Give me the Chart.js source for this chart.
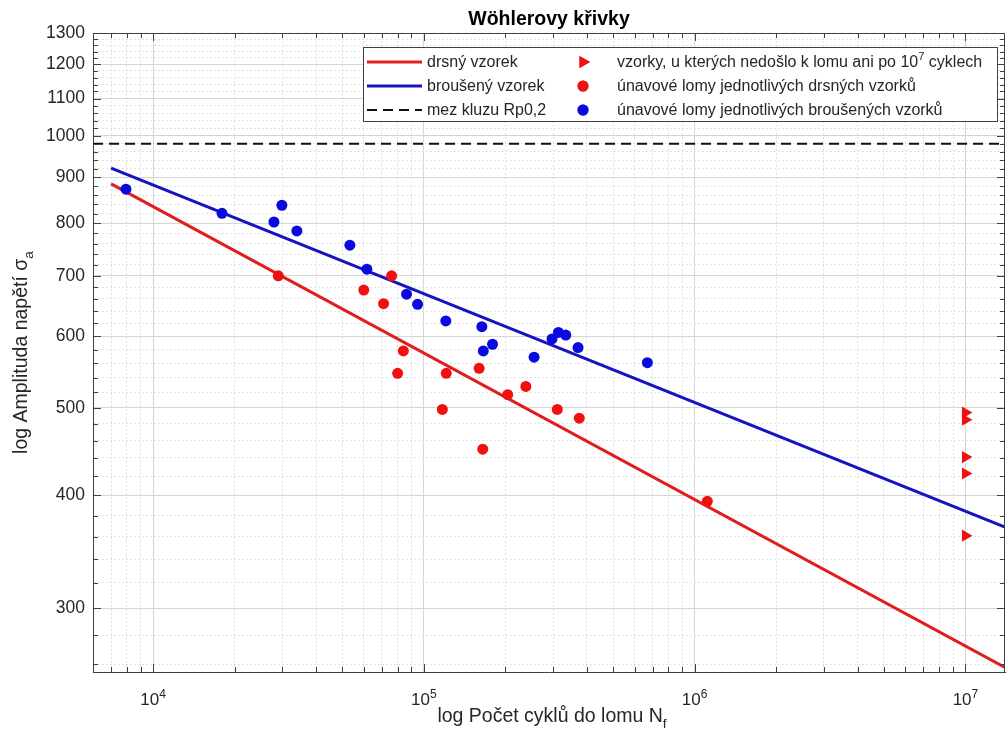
<!DOCTYPE html>
<html>
<head>
<meta charset="utf-8">
<script src="https://cdn.jsdelivr.net/npm/chart.js@4.4.0/dist/chart.umd.min.js"></script>
<style>
  html, body { margin: 0; padding: 0; background: #fff; overflow: hidden; }
  canvas { display: block; }
</style>
</head>
<body>
<canvas id="chart" width="1006" height="742"></canvas>
<script>
// únavové lomy drsných vzorků
const roughN = [29000, 60000, 71000, 76000, 80000, 84000, 117000, 121000, 160000, 165000, 204000, 238000, 311000, 375000, 1114000];
const roughS = [700, 675, 652, 700, 546, 578, 498, 546, 553, 450, 517, 528, 498, 487, 394];

// únavové lomy broušených vzorků
const groundN = [7940, 17970, 27950, 29900, 33960, 53300, 61600, 86300, 94800, 120500, 163700, 165800, 179300, 255300, 297400, 314000, 334300, 371000, 669000];
const groundS = [873, 821, 803, 838, 785, 757, 712, 668, 651, 624, 615, 578, 588, 569, 596, 606, 602, 583, 561];

// vzorky bez lomu po 10^7 cyklech
const runoutN = [10000000, 10000000, 10000000, 10000000, 10000000];
const runoutS = [494, 485, 441, 423, 361];

// Wöhlerovy přímky (koncové body)
const roughLineN = [7000, 14000000];
const roughLineS = [885, 258];
const groundLineN = [7000, 14000000];
const groundLineS = [921, 369];

// mez kluzu Rp0,2
const yieldN = [6000, 14000000];
const yieldS = [980, 980];

// osy
const xRange = [6000, 14000000];
const yRange = [255, 1300];
const xTickExponents = [4, 5, 6, 7];
const yTickLabels = [300, 400, 500, 600, 700, 800, 900, 1000, 1100, 1200, 1300];

const FONT = "'Liberation Sans', Arial, Helvetica, sans-serif";
const AXIS = '#404040';
const TEXT = '#262626';

const xTicks = [];
for (let d = 1000; d <= 10000000; d *= 10) {
  for (let m = 1; m <= 9; m++) {
    const v = m * d;
    if (v >= xRange[0] && v <= xRange[1]) xTicks.push(v);
  }
}
const yTicks = [];
for (let v = 260; v <= yRange[1]; v += 20) yTicks.push(v);

function isMajorX(v) {
  return xTickExponents.some(e => Math.abs(v - Math.pow(10, e)) < 1e-6);
}
function isMajorY(v) {
  return yTickLabels.includes(v);
}

function pts(xs, ys) {
  return xs.map((x, i) => ({x: x, y: ys[i]}));
}

// text with ^sup / _sub parts
function richParts(str, size) {
  const parts = [];
  const re = /([\^_])(\{[^}]*\}|.)/g;
  let last = 0, m;
  while ((m = re.exec(str)) !== null) {
    if (m.index > last) parts.push({t: str.slice(last, m.index), size: size, dy: 0});
    const t = m[2].replace(/[{}]/g, '');
    if (m[1] === '^') parts.push({t: t, size: size * 0.7, dy: -size * 0.4});
    else parts.push({t: t, size: size * 0.7, dy: size * 0.3});
    last = re.lastIndex;
  }
  if (last < str.length) parts.push({t: str.slice(last), size: size, dy: 0});
  return parts;
}
function richWidth(ctx, parts) {
  let w = 0;
  parts.forEach(p => { ctx.font = p.size + 'px ' + FONT; w += ctx.measureText(p.t).width; });
  return w;
}
function drawRich(ctx, parts, x, y) {
  parts.forEach(p => {
    ctx.font = p.size + 'px ' + FONT;
    ctx.fillText(p.t, x, y + p.dy);
    x += ctx.measureText(p.t).width;
  });
}

const legendCols = [
  [3, 4, 5],
  [0, 1, 2]
];

const matlabAxes = {
  id: 'matlabAxes',
  afterDatasetsDraw(chart) {
    const {ctx, chartArea: a, scales: {x, y}} = chart;
    ctx.save();
    ctx.strokeStyle = AXIS;
    ctx.lineWidth = 1;
    ctx.beginPath();
    ctx.moveTo(a.left, a.top + 0.5); ctx.lineTo(a.right, a.top + 0.5);
    ctx.moveTo(a.right - 0.5, a.top); ctx.lineTo(a.right - 0.5, a.bottom);
    xTicks.forEach(v => {
      const px = Math.round(x.getPixelForValue(v)) + 0.5;
      const len = isMajorX(v) ? 8 : 5;
      ctx.moveTo(px, a.bottom); ctx.lineTo(px, a.bottom - len);
      ctx.moveTo(px, a.top); ctx.lineTo(px, a.top + len);
    });
    yTicks.forEach(v => {
      const py = Math.round(y.getPixelForValue(v)) + 0.5;
      const len = isMajorY(v) ? 8 : 5;
      ctx.moveTo(a.left, py); ctx.lineTo(a.left + len, py);
      ctx.moveTo(a.right, py); ctx.lineTo(a.right - len, py);
    });
    ctx.stroke();

    // x tick labels 10^n
    ctx.fillStyle = TEXT;
    ctx.textBaseline = 'alphabetic';
    ctx.textAlign = 'left';
    xTickExponents.forEach(e => {
      const px = x.getPixelForValue(Math.pow(10, e));
      ctx.font = '17px ' + FONT;
      const w1 = ctx.measureText('10').width;
      ctx.font = '12px ' + FONT;
      const w2 = ctx.measureText(String(e)).width;
      const x0 = px - (w1 + w2) / 2;
      ctx.font = '17px ' + FONT;
      ctx.fillText('10', x0, a.bottom + 33);
      ctx.font = '12px ' + FONT;
      ctx.fillText(String(e), x0 + w1, a.bottom + 26);
    });

    // axis titles
    const xt = richParts('log Počet cyklů do lomu N_f', 19.5);
    const xw = richWidth(ctx, xt);
    drawRich(ctx, xt, (a.left + a.right) / 2 + 3 - xw / 2, a.bottom + 50);

    const yt = richParts('log Amplituda napětí σ_a', 19.5);
    const yw = richWidth(ctx, yt);
    ctx.save();
    ctx.translate(27, (a.top + a.bottom) / 2);
    ctx.rotate(-Math.PI / 2);
    drawRich(ctx, yt, -yw / 2, 0);
    ctx.restore();
    ctx.restore();
  },
  afterDraw(chart) {
    const {ctx, chartArea: a} = chart;
    const ds = chart.data.datasets;
    const box = {left: a.right - 642, top: a.top + 14, width: 634, height: 74};
    ctx.save();
    ctx.fillStyle = '#fff';
    ctx.fillRect(box.left, box.top, box.width, box.height);
    ctx.strokeStyle = AXIS;
    ctx.lineWidth = 1;
    ctx.strokeRect(box.left + 0.5, box.top + 0.5, box.width, box.height);
    const rowY = [15, 39, 63];
    ctx.textBaseline = 'middle';
    ctx.textAlign = 'left';
    legendCols[0].forEach((idx, r) => {
      const d = ds[idx];
      const yy = box.top + rowY[r];
      ctx.strokeStyle = d.borderColor;
      ctx.lineWidth = d.borderWidth;
      ctx.setLineDash(d.borderDash || []);
      ctx.beginPath();
      ctx.moveTo(box.left + 4, yy); ctx.lineTo(box.left + 59, yy);
      ctx.stroke();
      ctx.setLineDash([]);
      ctx.fillStyle = TEXT;
      drawRich(ctx, richParts(d.label, 16), box.left + 64, yy + 1);
    });
    legendCols[1].forEach((idx, r) => {
      const d = ds[idx];
      const yy = box.top + rowY[r];
      ctx.fillStyle = d.backgroundColor;
      Chart.helpers.drawPoint(ctx, {pointStyle: d.pointStyle, rotation: d.rotation || 0, radius: d.pointRadius, borderWidth: 0}, box.left + 220, yy);
      ctx.fill();
      ctx.fillStyle = TEXT;
      drawRich(ctx, richParts(d.label, 16), box.left + 254, yy + 1);
    });
    ctx.restore();
  }
};

new Chart(document.getElementById('chart'), {
  type: 'scatter',
  data: {
    datasets: [
      {
        label: 'vzorky, u kterých nedošlo k lomu ani po 10^7 cyklech',
        data: pts(runoutN, runoutS),
        pointStyle: 'triangle',
        rotation: 90,
        pointRadius: 7,
        backgroundColor: '#f01010',
        borderColor: '#f01010',
        borderWidth: 0
      },
      {
        label: 'únavové lomy jednotlivých drsných vzorků',
        data: pts(roughN, roughS),
        pointStyle: 'circle',
        pointRadius: 5.5,
        backgroundColor: '#f01010',
        borderColor: '#f01010',
        borderWidth: 0
      },
      {
        label: 'únavové lomy jednotlivých broušených vzorků',
        data: pts(groundN, groundS),
        pointStyle: 'circle',
        pointRadius: 5.5,
        backgroundColor: '#0a0ae0',
        borderColor: '#0a0ae0',
        borderWidth: 0
      },
      {
        label: 'drsný vzorek',
        data: pts(roughLineN, roughLineS),
        showLine: true,
        pointRadius: 0,
        borderColor: '#e01e1e',
        borderWidth: 3
      },
      {
        label: 'broušený vzorek',
        data: pts(groundLineN, groundLineS),
        showLine: true,
        pointRadius: 0,
        borderColor: '#1414c0',
        borderWidth: 3
      },
      {
        label: 'mez kluzu Rp0,2',
        data: pts(yieldN, yieldS),
        showLine: true,
        pointRadius: 0,
        borderColor: '#111',
        borderWidth: 2,
        borderDash: [10, 6]
      }
    ]
  },
  options: {
    responsive: false,
    animation: false,
    devicePixelRatio: 1,
    layout: {autoPadding: false, padding: {left: 0, right: 1, top: 0, bottom: 0}},
    plugins: {
      legend: {display: false},
      tooltip: {enabled: false},
      title: {
        display: true,
        text: 'Wöhlerovy křivky',
        fullSize: false,
        color: '#000',
        font: {family: FONT, size: 19.5, weight: 'bold'},
        padding: {top: 7.5, bottom: 2.1}
      }
    },
    scales: {
      x: {
        type: 'logarithmic',
        min: xRange[0],
        max: xRange[1],
        afterBuildTicks: s => { s.ticks = xTicks.map(v => ({value: v})); },
        afterFit: s => { s.height = 70; s.paddingLeft = 0; s.paddingRight = 0; },
        ticks: {display: false, autoSkip: false, maxRotation: 0, padding: 0},
        grid: {
          drawTicks: false,
          color: c => (c.tick && isMajorX(c.tick.value)) ? '#d6d6d6' : '#e2e2e2'
        },
        border: {
          color: AXIS,
          width: 1,
          dash: c => (c.tick && !isMajorX(c.tick.value)) ? [2, 2] : []
        }
      },
      y: {
        type: 'logarithmic',
        min: yRange[0],
        max: yRange[1],
        afterBuildTicks: s => { s.ticks = yTicks.map(v => ({value: v})); },
        afterFit: s => { s.width = 93; },
        ticks: {
          autoSkip: false,
          padding: 8,
          color: TEXT,
          font: {family: FONT, size: 17.5},
          callback: v => isMajorY(v) ? String(v) : ''
        },
        grid: {
          drawTicks: false,
          color: c => (c.tick && isMajorY(c.tick.value)) ? '#d6d6d6' : '#e2e2e2'
        },
        border: {
          color: AXIS,
          width: 1,
          dash: c => (c.tick && !isMajorY(c.tick.value)) ? [2, 2] : []
        }
      }
    }
  },
  plugins: [matlabAxes]
});
</script>
</body>
</html>
